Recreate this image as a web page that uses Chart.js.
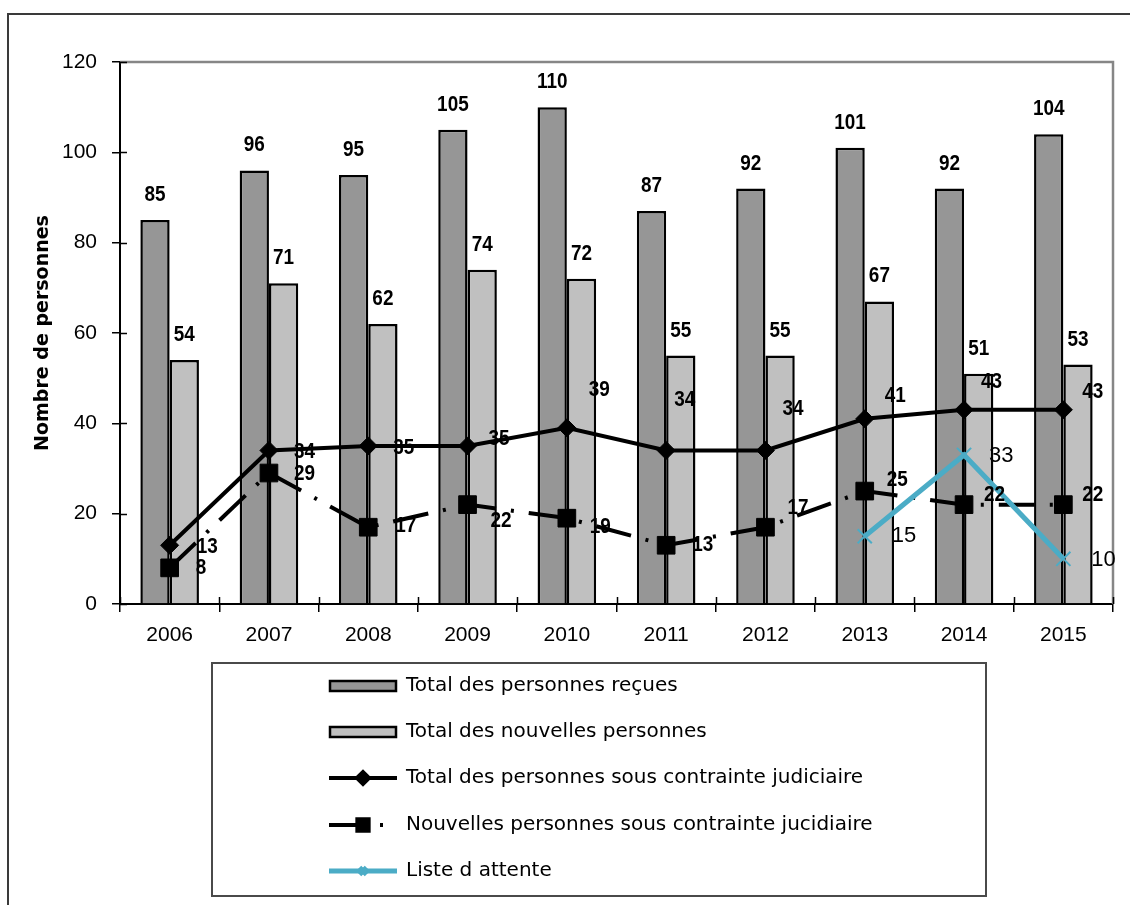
<!DOCTYPE html>
<html>
<head>
<meta charset="utf-8">
<script src="https://cdn.jsdelivr.net/npm/chart.js@4/dist/chart.umd.min.js"></script>
<style>
  html, body { margin: 0; padding: 0; background: #fff; }
  canvas { display: block; }
</style>
</head>
<body>
<canvas id="chart" width="1130" height="905"></canvas>
<script>
// ---- Données ----
const years = ['2006', '2007', '2008', '2009', '2010', '2011', '2012', '2013', '2014', '2015'];
const totalRecues = [85, 96, 95, 105, 110, 87, 92, 101, 92, 104];
const totalNouvelles = [54, 71, 62, 74, 72, 55, 55, 67, 51, 53];
const totalContrainte = [13, 34, 35, 35, 39, 34, 34, 41, 43, 43];
const nouvellesContrainte = [8, 29, 17, 22, 19, 13, 17, 25, 22, 22];
const listeAttente = [null, null, null, null, null, null, null, 15, 33, 10];
const yTickValues = [0, 20, 40, 60, 80, 100, 120];
const seriesNames = [
  'Total des personnes reçues',
  'Total des nouvelles personnes',
  'Total des personnes sous contrainte judiciaire',
  'Nouvelles personnes sous contrainte jucidiaire',
  'Liste d attente'
];
const axisTitle = 'Nombre de personnes';

// ---- Styles ----
const DARK = '#969696';
const LIGHT = '#c0c0c0';
const TEAL = '#4bacc6';
const LABEL_FONT = "bold 22px 'Liberation Sans', Arial, sans-serif";
const LABEL_SQUEEZE = 0.86;   // narrow look for the bold value labels
const PLAIN_FONT = "22px 'Liberation Sans', Arial, sans-serif";
const DASH = [36, 15, 3, 15];

// label nudges (px) for the line series, [dx, dy] from each point
const nudgeTotal = [[27, 2], [25, 2], [25, 2], [21, -7], [22, -38], [8, -50], [17, -41], [20, -23], [17, -28], [19, -18]];
const nudgeNouv = [[26, 0], [25, 1], [27, -1], [23, 16], [23, 9], [26, 0], [22, -19], [22, -11], [20, -10], [19, -10]];
const nudgeListe = [[27, 0], [25, 1], [28, 1]];

function drawText(ctx, text, x, y, align, squeeze) {
  ctx.save();
  ctx.translate(x, y);
  ctx.scale(squeeze, 1);
  ctx.textAlign = align;
  ctx.fillText(text, 0, 0);
  ctx.restore();
}

const decorPlugin = {
  id: 'decor',
  beforeDraw(chart) {
    const ctx = chart.ctx;
    ctx.save();
    ctx.fillStyle = '#fff';
    ctx.fillRect(0, 0, chart.width, chart.height);
    // outer frame (top and left edges)
    ctx.strokeStyle = '#3a3a3a';
    ctx.lineWidth = 2;
    ctx.beginPath();
    ctx.moveTo(1132, 14);
    ctx.lineTo(8, 14);
    ctx.lineTo(8, 907);
    ctx.stroke();
    ctx.restore();
  },
  afterDatasetsDraw(chart) {
    const ctx = chart.ctx;
    const area = chart.chartArea;
    const xs = chart.scales.x, ys = chart.scales.y;
    ctx.save();
    // plot-area border (top and right)
    ctx.strokeStyle = '#868686';
    ctx.lineWidth = 2.5;
    ctx.beginPath();
    ctx.moveTo(area.left, area.top);
    ctx.lineTo(area.right, area.top);
    ctx.lineTo(area.right, area.bottom);
    ctx.stroke();
    // inner halves of the tick marks
    ctx.strokeStyle = '#000';
    ctx.lineWidth = 1.5;
    ctx.beginPath();
    yTickValues.forEach(v => {
      const py = Math.round(ys.getPixelForValue(v)) + 0.5;
      ctx.moveTo(area.left, py);
      ctx.lineTo(area.left + 7, py);
    });
    for (let i = 0; i <= years.length; i++) {
      const px = Math.round(xs.getPixelForValue(i - 0.5)) + 0.5;
      ctx.moveTo(px, area.bottom);
      ctx.lineTo(px, area.bottom - 7);
    }
    ctx.stroke();

    // value labels on the bars
    ctx.fillStyle = '#000';
    ctx.font = LABEL_FONT;
    ctx.textBaseline = 'middle';
    [0, 1].forEach(di => {
      const meta = chart.getDatasetMeta(di);
      const data = chart.data.datasets[di].data;
      meta.data.forEach((el, i) => {
        drawText(ctx, String(data[i]), el.x, el.y - 25, 'center', LABEL_SQUEEZE);
      });
    });
    // value labels on the lines
    const lineLabels = (di, nudges, font, squeeze) => {
      const meta = chart.getDatasetMeta(di);
      const data = chart.data.datasets[di].data;
      ctx.font = font;
      let k = 0;
      meta.data.forEach((el, i) => {
        if (data[i] === null || data[i] === undefined) return;
        const n = nudges[k++];
        drawText(ctx, String(data[i]), el.x + n[0], el.y + n[1], 'left', squeeze);
      });
    };
    lineLabels(2, nudgeTotal, LABEL_FONT, LABEL_SQUEEZE);
    lineLabels(3, nudgeNouv, LABEL_FONT, LABEL_SQUEEZE);
    lineLabels(4, nudgeListe, PLAIN_FONT, 1);
    ctx.restore();
  },
  afterDraw(chart) {
    const ctx = chart.ctx;
    const ds = chart.data.datasets;
    ctx.save();
    // legend box
    ctx.strokeStyle = '#4a4a4a';
    ctx.lineWidth = 2;
    ctx.strokeRect(212, 663, 774, 233);
    const x0 = 329, x1 = 397, xm = (x0 + x1) / 2;
    const rowY = [686, 732, 778, 825, 871];
    ds.forEach((d, i) => {
      const y = rowY[i];
      if (d.type === 'bar') {
        ctx.fillStyle = d.backgroundColor;
        ctx.fillRect(x0, y - 6, x1 - x0, 12);
        ctx.strokeStyle = '#000';
        ctx.lineWidth = 2.5;
        ctx.strokeRect(x0 + 1, y - 5, x1 - x0 - 2, 10);
      } else {
        ctx.strokeStyle = d.borderColor;
        ctx.lineWidth = d.borderWidth;
        ctx.lineCap = 'butt';
        ctx.setLineDash(d.borderDash || []);
        ctx.beginPath();
        ctx.moveTo(x0, y);
        ctx.lineTo(x1, y);
        ctx.stroke();
        ctx.setLineDash([]);
        ctx.fillStyle = d.pointBackgroundColor;
        ctx.strokeStyle = d.pointBorderColor;
        Chart.helpers.drawPoint(ctx, {
          pointStyle: d.pointStyle,
          radius: d.legendRadius,
          borderWidth: d.pointBorderWidth,
          rotation: 0
        }, xm, y);
      }
      ctx.fillStyle = '#000';
      ctx.font = "20px 'DejaVu Sans', sans-serif";
      ctx.textAlign = 'left';
      ctx.textBaseline = 'middle';
      ctx.fillText(seriesNames[i], 406, y);
    });
    ctx.restore();
  }
};

new Chart(document.getElementById('chart'), {
  type: 'bar',
  data: {
    labels: years,
    datasets: [
      {
        type: 'bar', label: seriesNames[0], data: totalRecues,
        backgroundColor: DARK, borderColor: '#000', borderWidth: 2.5,
        barPercentage: 1, categoryPercentage: 0.59, order: 3
      },
      {
        type: 'bar', label: seriesNames[1], data: totalNouvelles,
        backgroundColor: LIGHT, borderColor: '#000', borderWidth: 2.5,
        barPercentage: 1, categoryPercentage: 0.59, order: 3
      },
      {
        type: 'line', label: seriesNames[2], data: totalContrainte,
        borderColor: '#000', borderWidth: 4, fill: false, tension: 0,
        pointStyle: 'rectRot', pointRadius: 9, legendRadius: 6,
        pointBackgroundColor: '#000', pointBorderColor: '#000', pointBorderWidth: 1,
        order: 2
      },
      {
        type: 'line', label: seriesNames[3], data: nouvellesContrainte,
        borderColor: '#000', borderWidth: 4, borderDash: DASH, borderCapStyle: 'butt',
        fill: false, tension: 0,
        pointStyle: 'rect', pointRadius: 12.5, legendRadius: 8,
        pointBackgroundColor: '#000', pointBorderColor: '#000', pointBorderWidth: 1,
        order: 1
      },
      {
        type: 'line', label: seriesNames[4], data: listeAttente,
        borderColor: TEAL, borderWidth: 5, fill: false, tension: 0,
        pointStyle: 'crossRot', pointRadius: 10, legendRadius: 5,
        pointBackgroundColor: TEAL, pointBorderColor: TEAL, pointBorderWidth: 2,
        order: 0
      }
    ]
  },
  options: {
    responsive: false,
    animation: false,
    devicePixelRatio: 1,
    layout: { padding: { left: 0, top: 62, right: 17, bottom: 251 } },
    plugins: {
      legend: { display: false },
      tooltip: { enabled: false }
    },
    scales: {
      x: {
        grid: {
          display: true, drawOnChartArea: false, drawTicks: true,
          tickLength: 8, color: '#000', lineWidth: 1.5, offset: true
        },
        border: { display: true, color: '#000', width: 2 },
        ticks: {
          color: '#000', padding: 11,
          font: { family: "'Liberation Sans', Arial, sans-serif", size: 21 }
        },
        afterFit(scale) { scale.height = 50; }
      },
      y: {
        min: yTickValues[0],
        max: yTickValues[yTickValues.length - 1],
        grid: {
          display: true, drawOnChartArea: false, drawTicks: true,
          tickLength: 8, color: '#000', lineWidth: 1.5
        },
        border: { display: true, color: '#000', width: 2 },
        ticks: {
          stepSize: yTickValues[1] - yTickValues[0],
          color: '#000', padding: 15,
          font: { family: "'Liberation Sans', Arial, sans-serif", size: 21 }
        },
        title: {
          display: true, text: axisTitle, color: '#000',
          font: { family: "'DejaVu Sans', sans-serif", size: 19, weight: 'bold' },
          padding: { top: 32, bottom: 0 }
        },
        afterFit(scale) { scale.width = 120; }
      }
    }
  },
  plugins: [decorPlugin]
});
</script>
</body>
</html>
